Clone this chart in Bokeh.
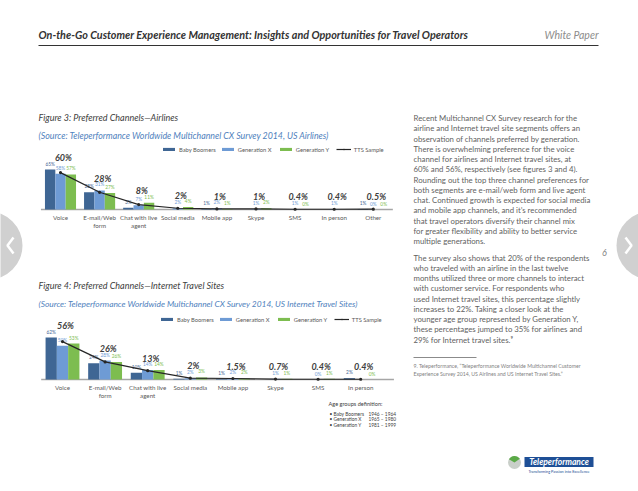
import numpy as np
from bokeh.plotting import figure
from bokeh.models import Range1d, Legend, LegendItem
from bokeh.core.properties import value
from bokeh.embed import file_html
from bokeh.resources import INLINE

# ---------------- data ----------------
f3_cats = ["Voice", "E-mail/Web\nform", "Chat with live\nagent", "Social media",
           "Mobile app", "Skype", "SMS", "In person", "Other"]
f3_bb = [65, 28, 3, None, 1, None, None, None, 1]
f3_gx = [58, 31, 7, 2, 2, 1, 1, 1, 0]
f3_gy = [57, 27, 11, 4, 1, 2, 0, None, 0]
f3_tts = [60, 28, 8, 2, 1, 1, 0.4, 0.4, 0.5]

f4_cats = ["Voice", "E-mail/Web\nform", "Chat with live\nagent", "Social media",
           "Mobile app", "Skype", "SMS", "In person"]
f4_bb = [62, 24, 10, 1, 1, None, None, 2]
f4_gx = [50, 28, 14, 2, 2, 1, 0, None]
f4_gy = [53, 26, 14, 3, 2, 1, 1, 0]
f4_tts = [56, 26, 13, 2, 1.5, 0.7, 0.4, 0.4]

series_names = ["Baby Boomers", "Generation X", "Generation Y", "TTS Sample"]

age_groups = ["Baby Boomers", "Generation X", "Generation Y"]
age_years = ["1946 – 1964", "1965 – 1980", "1981 – 1999"]

para1 = [
    "Recent Multichannel CX Survey research for the",
    "airline and Internet travel site segments offers an",
    "observation of channels preferred by generation.",
    "There is overwhelming preference for the voice",
    "channel for airlines and Internet travel sites, at",
    "60% and 56%, respectively (see figures 3 and 4).",
    "Rounding out the top three channel preferences for",
    "both segments are e-mail/web form and live agent",
    "chat. Continued growth is expected for social media",
    "and mobile app channels, and it’s recommended",
    "that travel operators diversify their channel mix",
    "for greater flexibility and ability to better service",
    "multiple generations.",
]
para2 = [
    "The survey also shows that 20% of the respondents",
    "who traveled with an airline in the last twelve",
    "months utilized three or more channels to interact",
    "with customer service. For respondents who",
    "used Internet travel sites, this percentage slightly",
    "increases to 22%. Taking a closer look at the",
    "younger age group represented by Generation Y,",
    "these percentages jumped to 35% for airlines and",
    "29% for Internet travel sites.⁹",
]
footnote = [
    "9. Teleperformance, “Teleperformance Worldwide Multichannel Customer",
    "Experience Survey 2014, US Airlines and US Internet Travel Sites.”",
]

# ---------------- style ----------------
BB_C, GX_C, GY_C, TTS_C = "#3F6694", "#6E9BD5", "#7DBD50", "#262626"
FONT_NAME = "Lato"
FONT = value(FONT_NAME)
W, H = 638, 491

p = figure(width=W, height=H, x_range=Range1d(0, W), y_range=Range1d(H, 0),
           output_backend="svg", toolbar_location=None,
           x_axis_type=None, y_axis_type=None, min_border=0)
p.outline_line_color = None
p.background_fill_color = "white"
p.border_fill_color = "white"


def txt(x, y, t, size, color="#404040", style="normal", align="left", base="middle", **kw):
    p.text(x=x, y=y, text=t, text_font=FONT, text_font_size=size, text_color=color,
           text_font_style=style, text_align=align, text_baseline=base, **kw)


def chart(tag, cats, bb, gx, gy, tts, x0, dx, base_y, k, x_end, leg_loc):
    xr, yr = tag + "x", tag + "y"
    xs = -x0 / dx
    p.extra_x_ranges[xr] = Range1d(xs, xs + W / dx)
    ys = -(H - base_y) / k
    p.extra_y_ranges[yr] = Range1d(ys, ys + H / k)
    kw = dict(x_range_name=xr, y_range_name=yr)
    n = len(cats)
    idx = np.arange(n, dtype=float)

    p.segment(x0=[-0.5], y0=[0], x1=[x_end], y1=[0], line_color="#A6A6A6", line_width=1.6, **kw)

    items = []
    tops = np.zeros(n)
    for vals, off, col, name in [(bb, -0.265, BB_C, series_names[0]),
                                 (gx, 0.0, GX_C, series_names[1]),
                                 (gy, 0.265, GY_C, series_names[2])]:
        v = np.array([np.nan if a is None else a for a in vals], dtype=float)
        m = ~np.isnan(v)
        r = p.vbar(x=(idx + off)[m], top=v[m], bottom=0, width=0.265,
                   fill_color=col, line_color=None, **kw)
        items.append(LegendItem(label=name, renderers=[r]))
        p.text(x=(idx + off)[m], y=v[m], text=[f"{a:g}%" for a in v[m]],
               text_font=FONT, text_font_size="4.8px", text_color=col,
               text_align="center", text_baseline="bottom", y_offset=-3, **kw)
        tops = np.fmax(tops, np.nan_to_num(v))

    tv = np.array(tts, dtype=float)
    lr = p.line(x=idx, y=tv, line_color=TTS_C, line_width=1.2, **kw)
    sr = p.scatter(x=idx, y=tv, size=3.2, marker="circle", fill_color=TTS_C, line_color=None, **kw)
    items.append(LegendItem(label=series_names[3], renderers=[lr, sr]))

    p.text(x=idx, y=tops, text=[f"{a:g}%" for a in tv], text_font=FONT,
           text_font_size="9px", text_font_style="bold italic", text_color="#404040",
           text_align="center", text_baseline="middle", x_offset=3, y_offset=-12, **kw)

    p.text(x=idx, y=np.zeros(n), text=cats, text_font=FONT, text_font_size="6.2px",
           text_color="#595959", text_align="center", text_baseline="top",
           y_offset=4, text_line_height=1.25, **kw)

    leg = Legend(items=items, orientation="horizontal", location=leg_loc,
                 glyph_width=15, glyph_height=4, label_text_font=FONT_NAME,
                 label_text_font_size="5.8px", label_text_color="#595959",
                 label_standoff=3, label_width=36, label_height=5, spacing=4,
                 padding=0, margin=0, border_line_color=None, background_fill_alpha=0)
    p.add_layout(leg)


# ---------------- header ----------------
txt([38], [34], ["On-the-Go Customer Experience Management: Insights and Opportunities for Travel Operators"],
    "10.8px", color="#333333", style="bold italic")
txt([598], [34], ["White Paper"], "10.5px", color="#8C8C8C", style="italic", align="right")
p.segment(x0=[38], y0=[45], x1=[598], y1=[45], line_color="#333333", line_width=1)

# ---------------- figure 3 ----------------
txt([38], [117], ["Figure 3: Preferred Channels—Airlines"], "9px", color="#404040", style="italic")
txt([38], [135], ["(Source: Teleperformance Worldwide Multichannel CX Survey 2014, US Airlines)"],
    "8.8px", color="#4F81BD", style="italic")
chart("c3", f3_cats, f3_bb, f3_gx, f3_gy, f3_tts, x0=60, dx=39.1, base_y=209, k=0.615,
      x_end=8.5, leg_loc=(161, 338.5))

# ---------------- figure 4 ----------------
txt([38], [285], ["Figure 4: Preferred Channels—Internet Travel Sites"], "9px", color="#404040", style="italic")
txt([38], [303], ["(Source: Teleperformance Worldwide Multichannel CX Survey 2014, US Internet Travel Sites)"],
    "8.4px", color="#4F81BD", style="italic")
chart("c4", f4_cats, f4_bb, f4_gx, f4_gy, f4_tts, x0=62, dx=42.6, base_y=379, k=0.677,
      x_end=7.78, leg_loc=(159, 168.5))

# age groups
txt([328], [403], ["Age groups definition:"], "5.6px", color="#404040")
txt([329] * 3, [413, 418.5, 424], ["•  " + a for a in age_groups], "4.8px", color="#404040")
txt([368] * 3, [413, 418.5, 424], age_years, "4.8px", color="#404040")

# ---------------- right column ----------------
txt([413] * len(para1), [117.5 + 10.25 * i for i in range(len(para1))], para1, "7.8px", color="#5F5F5F")
txt([413] * len(para2), [257 + 10.25 * i for i in range(len(para2))], para2, "7.8px", color="#5F5F5F")
p.segment(x0=[413], y0=[357], x1=[476], y1=[357], line_color="#595959", line_width=0.7)
txt([413, 413], [365, 373.5], footnote, "5.2px", color="#7F7F7F")

# page number
txt([604], [252], ["6"], "9px", color="#7F7F7F", style="italic", align="center")

# side arrows
p.circle(x=[-12, 650], y=[245, 245], radius=34, fill_color="#D0D0D0", line_color=None)
p.line(x=[13, 7, 13], y=[237, 245, 253], line_color="white", line_width=2.5)
p.line(x=[625, 631, 625], y=[237, 245, 253], line_color="white", line_width=2.5)

# logo
p.circle(x=[514], y=[462], radius=6.5, fill_color="#C9CFC9", line_color=None)
p.wedge(x=[514], y=[462], radius=6.5, start_angle=0.6, end_angle=2.6, fill_color="#5BAA47", line_color=None)
p.rect(x=[558.5], y=[461.5], width=69, height=10, fill_color="#1E4F96", line_color=None)
txt([558.5], [461.8], ["Teleperformance"], "8.5px", color="white", style="bold italic", align="center")
txt([558.5], [470.5], ["Transforming Passion into Excellence"], "3.8px", color="#1E4F96", align="center")

open("out.html", "w").write(file_html(p, INLINE))
